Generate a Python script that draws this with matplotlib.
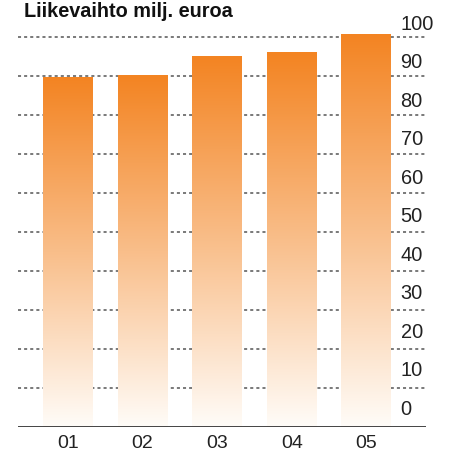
import numpy as np
import matplotlib
matplotlib.use("Agg")
import matplotlib.pyplot as plt
import matplotlib.transforms as mtransforms
from matplotlib.colors import LinearSegmentedColormap

categories = ["01", "02", "03", "04", "05"]
values = [89.6, 90.1, 95.2, 96.2, 100.8]
ytick_values = [0, 10, 20, 30, 40, 50, 60, 70, 80, 90, 100]
title = "Liikevaihto milj. euroa"

plt.rcParams['font.family'] = ['Liberation Sans', 'DejaVu Sans']

W, H = 449, 451
fig = plt.figure(figsize=(W / 100, H / 100), dpi=100)
ymax = 104
ax = fig.add_axes([18 / W, 24 / H, (426 - 18) / W, (ymax * 3.897) / H])
for s in ax.spines.values():
    s.set_visible(False)
ax.set_xticks([])
ax.set_yticks([])

# grid lines
for v in ytick_values[1:]:
    ax.axhline(v, color="#555555", lw=1.1, ls=(0, (2, 2)), zorder=1)

cmap = LinearSegmentedColormap.from_list("og", ["#FFFCF8", "#F9BE8A", "#F38422"])
grad = np.linspace(0, 1, 256).reshape(-1, 1)
width = 0.67
for i, v in enumerate(values):
    x0 = i - width / 2
    ax.imshow(grad, extent=[x0, x0 + width, 0, v], origin="lower", cmap=cmap,
              aspect="auto", zorder=2, interpolation="bilinear")
ax.set_xlim(-0.67, 4.8)
ax.set_ylim(0, ymax)

# baseline
ax.axhline(0, color="#333333", lw=2, zorder=3)

# y labels (right side, sitting just above each grid line)
tr = mtransforms.blended_transform_factory(fig.transFigure, ax.transData)
for v in ytick_values:
    ax.text(400.5 / W, v * 0.988 + 3.1, str(v), transform=tr,
            ha="left", va="baseline", fontsize=14.4, color="#222222", clip_on=False)

# x labels
for i, c in enumerate(categories):
    ax.text(i, -5.4, c, ha="center", va="baseline", fontsize=14, color="#222222",
            clip_on=False)

fig.text(24 / W, 1 - 16.7 / H, title, fontsize=14.3, fontweight="bold",
         ha="left", va="baseline", color="#111111")

fig.savefig("out.png", dpi=100)
